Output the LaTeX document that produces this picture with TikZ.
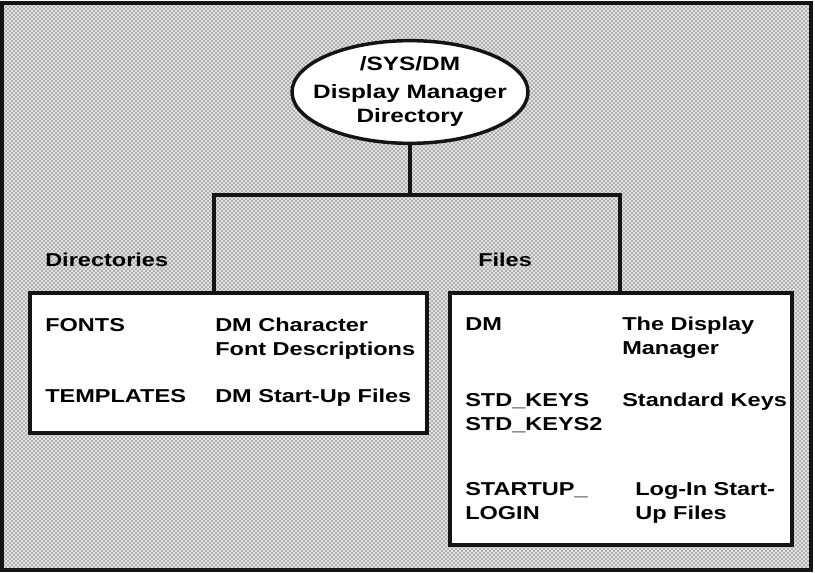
\documentclass[tikz,border=0pt]{standalone}
\usepackage{fontspec}
\setmainfont{Liberation Sans}[FakeStretch=1.26]
\usetikzlibrary{shapes.geometric,patterns,positioning}
\definecolor{ink}{HTML}{141414}

\begin{document}
\begin{tikzpicture}[x=0.75pt,y=-0.75pt,
  frame/.style={draw=ink,line width=2.6pt},
  dmbox/.style={draw=ink,fill=white,line width=2.6pt,inner sep=0pt},
  conn/.style={draw=ink,line width=2.6pt},
  txt/.style={anchor=base west,inner sep=0pt,align=left,
    font=\bfseries\fontsize{14}{18}\selectfont}]
  \useasboundingbox (0,0) rectangle (815,573);
  \fill[white] (0,0) rectangle (815,573);
  \fill[gray!22] (2,3) rectangle (811,570);
  \path[pattern=crosshatch dots,pattern color=black] (2,3) rectangle (811,570);
  \draw[frame] (2,3) rectangle (811,570);
  % top of the tree
  \node[dmbox,ellipse,minimum width=177pt,minimum height=77pt,
    inner xsep=-12pt,inner ysep=-4pt,
    align=center,font=\bfseries\fontsize{14.5}{18}\selectfont]
    (dmdir) at (410,92) {/SYS/DM\\[3pt]Display Manager\\Directory};
  \node[dmbox,minimum width=297.75pt,minimum height=105pt] (dirbox) at (228.5,363) {};
  \node[dmbox,minimum width=256.5pt,minimum height=189pt] (filebox) at (621,419) {};
  \coordinate (ljoin) at (214,195);
  \coordinate (rjoin) at (620,195);
  \draw[conn] (dmdir.south) -- (dmdir.south |- ljoin);
  \draw[conn] (dirbox.north -| ljoin) -- (ljoin) -- (rjoin) -- (filebox.north -| rjoin);
  \node[txt] (dirlbl) at (45,267) {Directories};
  \node[txt] (filelbl) at (478,267) {Files};
  % directories
  \node[txt] (fonts) at (45,332) {FONTS};
  \node[txt] (fontsd) at (215,356) {DM Character\\Font Descriptions};
  \node[txt] (tmpl) at (45,403) {TEMPLATES};
  \node[txt] (tmpld) at (215,403) {DM Start-Up Files};
  % files
  \node[txt] (dm) at (465,331) {DM};
  \node[txt] (dmd) at (622,355) {The Display\\Manager};
  \node[txt] (keys) at (465,431) {STD\_KEYS\\STD\_KEYS2};
  \node[txt] (keysd) at (622,407) {Standard Keys};
  \node[txt] (login) at (465,520) {STARTUP\_\\LOGIN};
  \node[txt] (logind) at (635,520) {Log-In Start-\\Up Files};
\end{tikzpicture}
\end{document}
